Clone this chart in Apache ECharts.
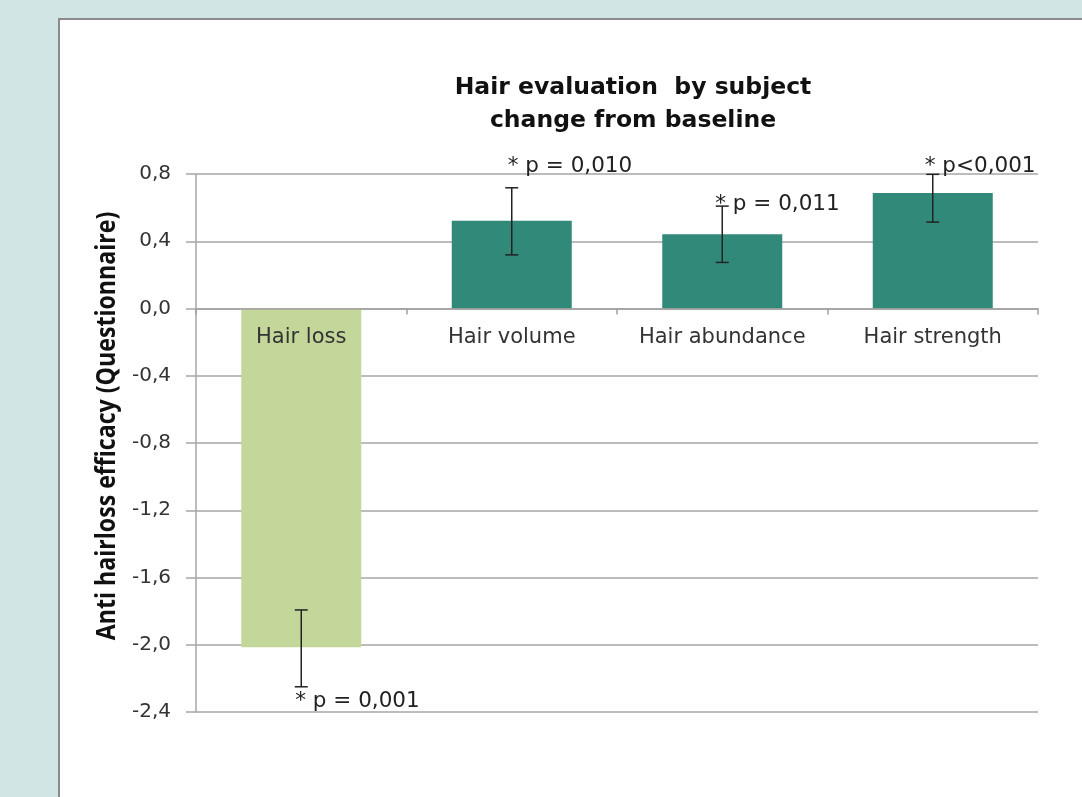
<!DOCTYPE html>
<html>
<head>
<meta charset="utf-8">
<script src="https://cdn.jsdelivr.net/npm/echarts@6/dist/echarts.min.js"></script>
<style>
html,body{margin:0;padding:0;background:#d1e5e4;}
#chart{width:1082px;height:797px;}
</style>
</head>
<body>
<div id="chart"></div>
<script>
// ---- data ----
const categories = ['Hair loss', 'Hair volume', 'Hair abundance', 'Hair strength'];
const values = [-2.015, 0.522, 0.441, 0.687];
const errHigh = [-1.793, 0.718, 0.609, 0.798];
const errLow = [-2.25, 0.319, 0.274, 0.514];
const pLabels = ['* p = 0,001', '* p = 0,010', '* p = 0,011', '* p<0,001'];
const yMin = -2.4, yMax = 0.8, yStep = 0.4;
const titleText = 'Hair evaluation  by subject\nchange from baseline';
const yAxisTitle = 'Anti hairloss efficacy (Questionnaire)';

// ---- styles (pixel offsets of annotations from error bar ends) ----
const labelOffsets = [[-6, 15], [-4, -21], [-7, -2], [-8, -8]];
const barColors = ['#c4d79b', '#31897a', '#31897a', '#31897a'];

const chart = echarts.init(document.getElementById('chart'), null, {renderer: 'canvas'});

const LABEL_FONT = '"DejaVu Sans", "Open Sans", sans-serif';
const TITLE_FONT = '"DejaVu Sans", "Open Sans", sans-serif';

const gridTop = 174, gridBottom = 85, H = 797;
const gridH = H - gridTop - gridBottom;
const zeroFromBottom = gridH * (0 - yMin) / (yMax - yMin);

const option = {
  backgroundColor: '#d1e5e4',
  animation: false,
  graphic: [{
    type: 'rect',
    z: -10,
    shape: {x: 59, y: 19, width: 1100, height: 900},
    style: {fill: '#ffffff', stroke: '#8a8a8a', lineWidth: 2}
  }, {
    type: 'text',
    x: 108, y: 426,
    rotation: Math.PI / 2,
    scaleX: 0.89,
    style: {text: yAxisTitle, font: 'bold 26px "Open Sans", sans-serif', fill: '#111',
      align: 'center', verticalAlign: 'middle'}
  }],
  title: {
    text: titleText,
    left: 628, top: 66, textAlign: 'center',
    textStyle: {fontFamily: TITLE_FONT, fontSize: 23.5, fontWeight: 'bold', color: '#111', lineHeight: 33}
  },
  grid: {left: 196, top: gridTop, right: 44, bottom: gridBottom, containLabel: false},
  xAxis: {
    type: 'category',
    data: categories,
    position: 'bottom',
    offset: -zeroFromBottom,
    z: 4,
    axisLine: {onZero: false, lineStyle: {color: '#a0a0a0', width: 1.5}},
    axisTick: {show: true, length: 6, alignWithLabel: false, lineStyle: {color: '#a0a0a0', width: 1.5}},
    axisLabel: {fontFamily: LABEL_FONT, fontSize: 21, color: '#333', margin: 19, interval: 0},
    splitLine: {show: false}
  },
  yAxis: {
    type: 'value',
    min: yMin, max: yMax, interval: yStep,
    axisLine: {show: true, lineStyle: {color: '#a6a6a6', width: 1.5}},
    axisTick: {show: true, length: 10, inside: false, lineStyle: {color: '#a6a6a6', width: 1.5}},
    axisLabel: {fontFamily: LABEL_FONT, fontSize: 20, color: '#333', margin: 25,
      formatter: v => v.toFixed(1).replace('.', ',')},
    splitLine: {show: true, lineStyle: {color: '#a6a6a6', width: 1.5}}
  },
  series: [{
    type: 'bar',
    barWidth: '57%',
    data: values.map((v, i) => ({value: v, itemStyle: {color: barColors[i]}})),
    z: 2
  }, {
    type: 'custom',
    z: 5,
    data: categories.map((c, i) => [i, errLow[i], errHigh[i], values[i]]),
    renderItem: function (params, api) {
      const i = api.value(0);
      const lo = api.coord([i, api.value(1)]);
      const hi = api.coord([i, api.value(2)]);
      const x = hi[0], cap = 6.5;
      const neg = api.value(3) < 0;
      const anchorY = neg ? lo[1] : hi[1];
      const off = labelOffsets[i];
      return {
        type: 'group',
        children: [
          {type: 'line', shape: {x1: x, y1: hi[1], x2: x, y2: lo[1]}, style: {stroke: '#222', lineWidth: 1.5}},
          {type: 'line', shape: {x1: x - cap, y1: hi[1], x2: x + cap, y2: hi[1]}, style: {stroke: '#222', lineWidth: 1.5}},
          {type: 'line', shape: {x1: x - cap, y1: lo[1], x2: x + cap, y2: lo[1]}, style: {stroke: '#222', lineWidth: 1.5}},
          {type: 'text', x: x + off[0], y: anchorY + off[1],
            style: {text: pLabels[i], fill: '#222', font: '21.5px ' + LABEL_FONT, textAlign: 'left', textVerticalAlign: 'middle'}}
        ]
      };
    }
  }]
};
chart.setOption(option);
</script>
</body>
</html>
